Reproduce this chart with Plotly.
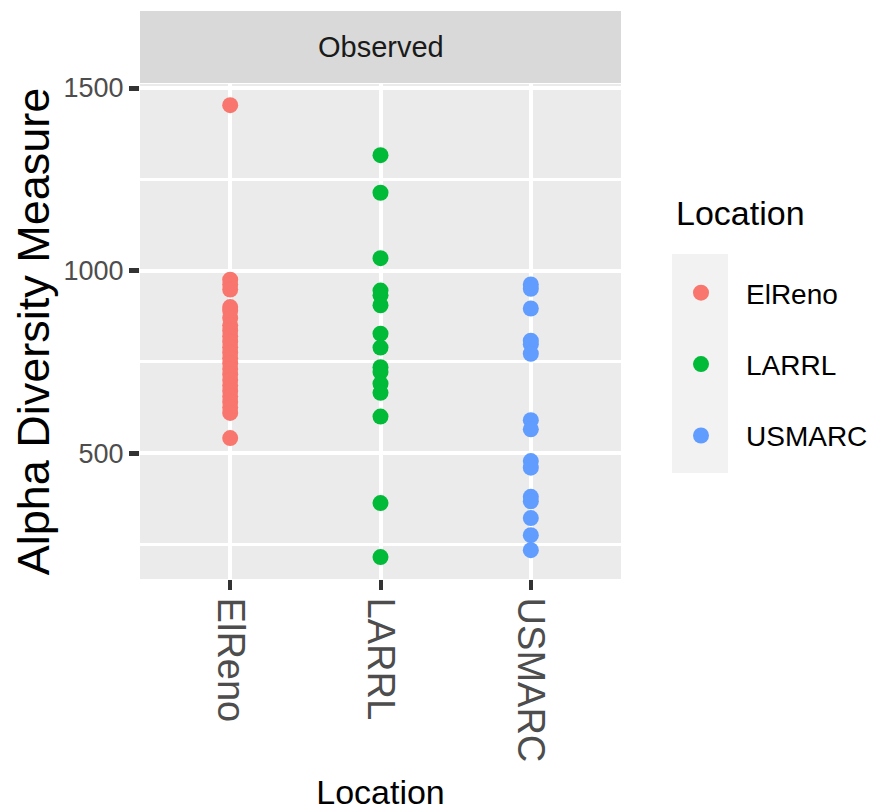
import plotly.graph_objects as go

categories = ["ElReno", "LARRL", "USMARC"]
colors = ["#F8766D", "#00BA38", "#619CFF"]

elreno_vals = [1453, 975, 962, 948, 900, 890, 870, 850, 835, 820, 805, 790, 775,
               760, 745, 730, 715, 700, 685, 670, 655, 640, 625, 610, 541]
larrl_vals = [1316, 1213, 1034, 945, 932, 905, 827, 789, 735, 722, 690, 665, 600, 363, 215]
usmarc_vals = [962, 950, 896, 808, 798, 772, 590, 565, 478, 460, 380, 368, 322, 275, 234]
series = [elreno_vals, larrl_vals, usmarc_vals]

y_ticks = [500, 1000, 1500]

FONT = "Liberation Sans, Arial, sans-serif"

fig = go.Figure()
for cat, col, vals in zip(categories, colors, series):
    fig.add_trace(go.Scatter(
        x=[cat] * len(vals), y=vals, mode="markers", name=cat,
        legendgroup=cat,
        marker=dict(color=col, size=16, line=dict(width=0)),
    ))

# page body has an 8px margin; figure coordinates = screen coordinates - 8
OFF = 8
W, H = 883 - OFF, 812 - OFF
L, T = 140 - OFF, 84 - OFF
R = W - (621 - OFF)
B = H - (579 - OFF)
ph = H - T - B
pw = W - L - R


def px_x(sx):
    return (sx - OFF - L) / pw


def px_y(sy):
    return (H - B - (sy - OFF)) / ph


fig.update_layout(
    width=W, height=H,
    margin=dict(l=L, r=R, t=T, b=B, pad=0, autoexpand=False),
    paper_bgcolor="white",
    plot_bgcolor="#EBEBEB",
    showlegend=True,
    legend=dict(
        x=px_x(656), xanchor="left", y=px_y(268), yanchor="top",
        font=dict(family=FONT, size=28, color="black"),
        itemwidth=80,
        tracegroupgap=32,
        traceorder="grouped",
        bgcolor="rgba(0,0,0,0)",
    ),
    xaxis=dict(
        type="category", categoryorder="array", categoryarray=categories,
        range=[-0.6, 2.6], automargin=False,
        showgrid=True, gridcolor="white", gridwidth=4,
        zeroline=False, showline=False,
        ticks="outside", ticklen=10, tickwidth=4, tickcolor="#333333",
        tickangle=90,
        tickfont=dict(family=FONT, size=38, color="#4D4D4D"),
        title=dict(text="Location", font=dict(family=FONT, size=34, color="black"), standoff=18),
    ),
    yaxis=dict(
        range=[155, 1511], automargin=False,
        tickvals=y_ticks,
        showgrid=True, gridcolor="white", gridwidth=4,
        minor=dict(dtick=250, tick0=0, showgrid=True, gridcolor="white", gridwidth=3, ticks=""),
        zeroline=False, showline=False,
        ticks="outside", ticklen=10, tickwidth=5, tickcolor="#333333",
        tickfont=dict(family=FONT, size=27, color="#4D4D4D"),
        title=dict(text="Alpha Diversity Measure", font=dict(family=FONT, size=45, color="black"), standoff=4),
    ),
)

# facet strip
fig.add_shape(type="rect", xref="paper", yref="paper",
              x0=0, x1=1, y0=px_y(83), y1=px_y(11),
              fillcolor="#D9D9D9", line=dict(width=0), layer="below")
fig.add_annotation(text="Observed", xref="paper", yref="paper", x=0.5,
                   y=px_y(47), xanchor="center", yanchor="middle",
                   showarrow=False, font=dict(family=FONT, size=29, color="#1A1A1A"))

# legend title
fig.add_annotation(text="Location", xref="paper", yref="paper", x=px_x(674),
                   y=px_y(213), xanchor="left", yanchor="middle",
                   showarrow=False, font=dict(family=FONT, size=34, color="black"))

# legend key background
fig.add_shape(type="rect", xref="paper", yref="paper",
              x0=px_x(672), x1=px_x(728), y0=px_y(473), y1=px_y(254),
              fillcolor="#F2F2F2", line=dict(width=0), layer="below")

fig.write_html("out.html")
